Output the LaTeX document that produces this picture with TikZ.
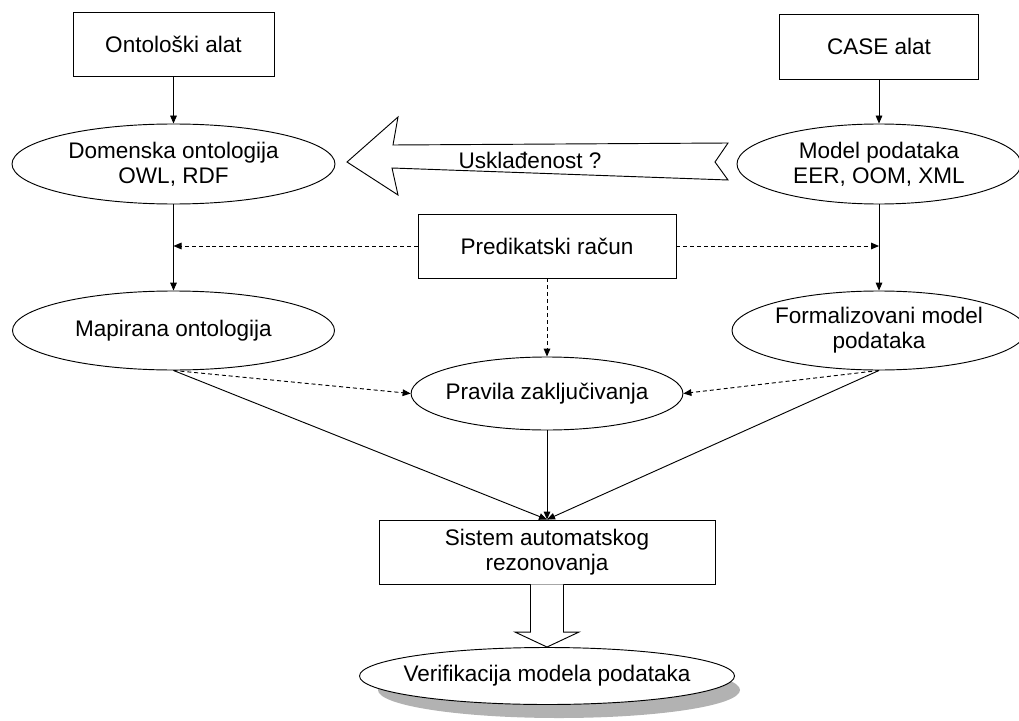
\documentclass[tikz,border=0pt]{standalone}
\usepackage{fontspec}
\setmainfont{Liberation Sans}
\usetikzlibrary{shapes.geometric,arrows.meta,calc}
\begin{document}
\begin{tikzpicture}[x=0.75pt,y=-0.75pt,
  every node/.style={font=\fontsize{16.9pt}{18.75pt}\selectfont},
  boxnode/.style={draw, line width=0.7pt, rectangle, inner sep=0pt, align=center},
  ellnode/.style={draw, line width=0.7pt, ellipse, inner sep=0pt, align=center},
  arr/.style={line width=0.7pt, -{Triangle[length=6pt,width=5pt]}},
  darr/.style={arr, dash pattern=on 3pt off 2.2pt},
  outline/.style={line width=0.7pt, line join=miter},
]
\useasboundingbox (0,0) rectangle (1019,720);

% tools
\node[boxnode, minimum width=150.75pt, minimum height=48pt] (ont) at (173.5,44) {Ontološki alat};
\node[boxnode, minimum width=149.25pt, minimum height=48.75pt] (case) at (879,46.5) {CASE alat};

% models
\node[ellnode, minimum width=242.25pt, minimum height=60pt] (dom) at (173.5,164) {Domenska ontologija\\OWL, RDF};
\node[ellnode, minimum width=213pt, minimum height=60pt] (model) at (879,164) {Model podataka\\EER, OOM, XML};

\node[boxnode, minimum width=193.5pt, minimum height=48pt] (pred) at (547,246) {Predikatski račun};

\node[ellnode, minimum width=241.5pt, minimum height=59.25pt] (map) at (173.5,330.5) {Mapirana ontologija};
\node[ellnode, minimum width=217.5pt, minimum height=59.25pt] (form) at (879,330.5) {Formalizovani model\\podataka};
\node[ellnode, inner xsep=-4pt, minimum width=202.5pt, minimum height=54.75pt] (prav) at (547,393.5) {Pravila zaključivanja};

\node[boxnode, minimum width=252pt, minimum height=48pt] (sis) at (547,552) {Sistem automatskog\\rezonovanja};

% result with its shadow
\fill[gray!60] (559,690) ellipse [x radius=181, y radius=28];
\node[ellnode, fill=white, inner xsep=-9pt, minimum width=281.25pt, minimum height=42.75pt] (ver) at (547,676) {Verifikacija modela podataka};

% alignment arrow between the two models
\draw[outline] (347,162) -- (398,117) -- (393,145) -- (728,143) -- (715,162)
  -- (728,180) -- (392,168) -- (398,195) -- cycle;
\node (usk) at (530,160) {Usklađenost ?};

% solid flow
\draw[arr] (ont.south) -- (dom.north);
\draw[arr] (case.south) -- (model.north);
\draw[arr] (dom.south) -- (map.north);
\draw[arr] (model.south) -- (form.north);
\draw[arr] (map.south) -- (sis.north);
\draw[arr] (prav.south) -- (sis.north);
\draw[arr] (form.south) -- (sis.north);

% predicate calculus influence
\draw[darr] (pred.west) -- (pred.west -| dom.south);
\draw[darr] (pred.east) -- (pred.east -| model.south);
\draw[darr] (pred.south) -- (prav.north);
\draw[darr] (map.south) -- (prav.west);
\draw[darr] (form.south) -- (prav.east);

% hollow block arrow to verification
\draw[outline, fill=white] ($(sis.south)+(-16.5,0)$) -- ($(ver.north)+(-16.5,-15)$)
  -- ($(ver.north)+(-32,-15)$) -- (ver.north) -- ($(ver.north)+(32,-15)$)
  -- ($(ver.north)+(16.5,-15)$) -- ($(sis.south)+(16.5,0)$);
\end{tikzpicture}
\end{document}
